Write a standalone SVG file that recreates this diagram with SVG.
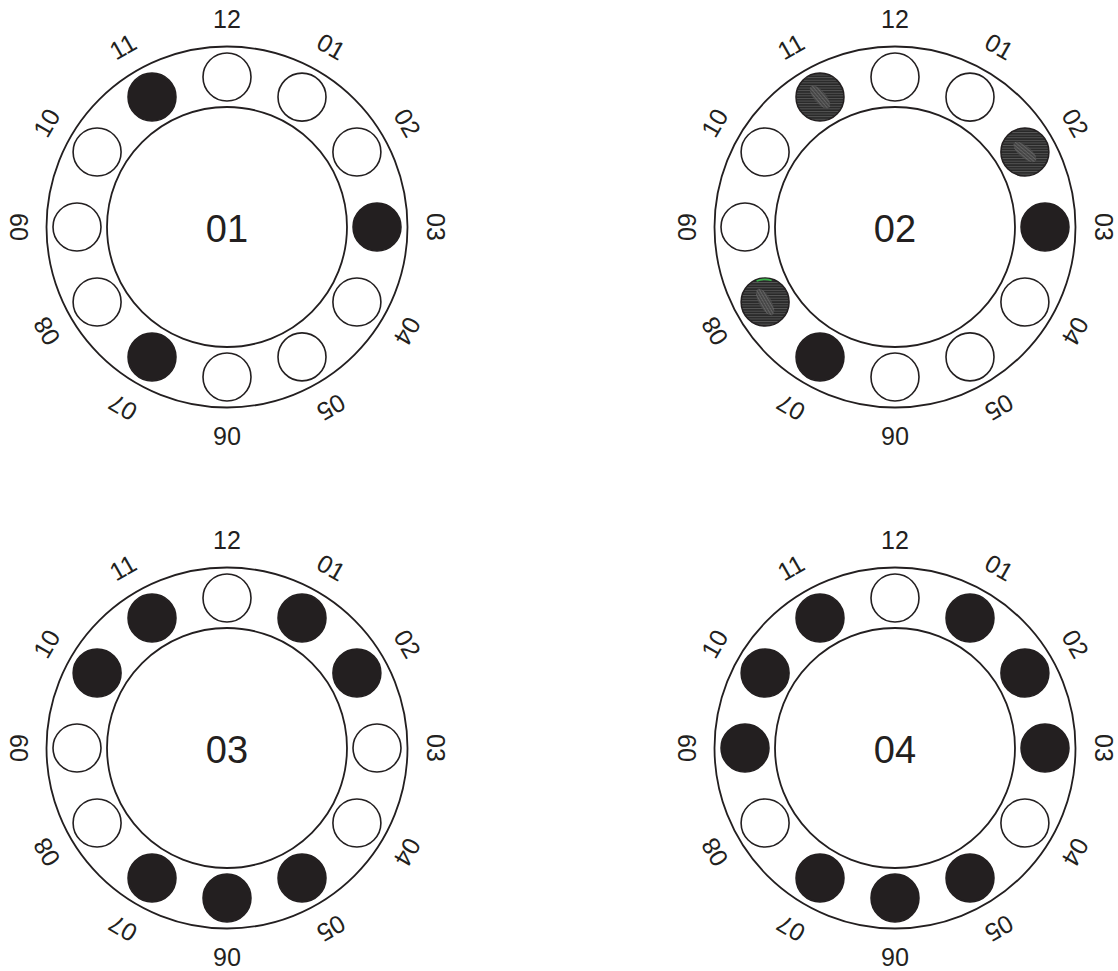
<svg xmlns="http://www.w3.org/2000/svg" xmlns:xlink="http://www.w3.org/1999/xlink" width="1118" height="971" viewBox="0 0 1118 971">
<style>
.ring{fill:none;stroke:#231f20;stroke-width:1.8}
.inner{fill:#fff;stroke:#231f20;stroke-width:1.8}
.open{fill:#fff;stroke:#231f20;stroke-width:1.6}
.full{fill:#231f20;stroke:#231f20;stroke-width:1.5}
.hatch{fill:url(#stripes);stroke:#231f20;stroke-width:1.5}
.lbl{font-family:"Liberation Sans",Arial,sans-serif;font-size:25px;fill:#231f20;text-anchor:middle}
.num{font-family:"Liberation Sans",Arial,sans-serif;font-size:38px;fill:#231f20;text-anchor:middle}
</style>
<defs>
<pattern id="stripes" patternUnits="userSpaceOnUse" width="10" height="2.6">
<rect width="10" height="2.6" fill="#242424"/>
<rect width="10" height="1.1" y="0.8" fill="#555"/>
</pattern>
<pattern id="stripes2" patternUnits="userSpaceOnUse" width="10" height="2.6">
<rect width="10" height="2.6" fill="#3c3c3c"/>
<rect width="10" height="1.4" y="0.7" fill="#6e6e6e"/>
</pattern>
<g id="labels">
<text class="lbl" x="0" y="-199.5">12</text>
<text class="lbl" x="0" y="-199.5" transform="rotate(30)">01</text>
<text class="lbl" x="0" y="-199.5" transform="rotate(60)">02</text>
<text class="lbl" x="0" y="-199.5" transform="rotate(90)">03</text>
<text class="lbl" x="0" y="-199.5" transform="rotate(120)">04</text>
<text class="lbl" x="0" y="-199.5" transform="rotate(150)">05</text>
<text class="lbl" x="0" y="-199.5" transform="rotate(180)">06</text>
<text class="lbl" x="0" y="-199.5" transform="rotate(210)">07</text>
<text class="lbl" x="0" y="-199.5" transform="rotate(240)">08</text>
<text class="lbl" x="0" y="-199.5" transform="rotate(270)">09</text>
<text class="lbl" x="0" y="-199.5" transform="rotate(300)">10</text>
<text class="lbl" x="0" y="-199.5" transform="rotate(330)">11</text>
</g>
<g id="frame">
<circle class="ring" r="180.5"/>
<circle class="inner" r="120"/>
</g>
</defs>

<g id="dial-01" transform="translate(227,227)">
<use xlink:href="#frame"/>
<use xlink:href="#labels"/>
<circle class="open" cx="0" cy="-150" r="24"/>
<circle class="open" cx="75" cy="-129.9" r="24"/>
<circle class="open" cx="129.9" cy="-75" r="24"/>
<circle class="full" cx="150" cy="0" r="24"/>
<circle class="open" cx="129.9" cy="75" r="24"/>
<circle class="open" cx="75" cy="129.9" r="24"/>
<circle class="open" cx="0" cy="150" r="24"/>
<circle class="full" cx="-75" cy="129.9" r="24"/>
<circle class="open" cx="-129.9" cy="75" r="24"/>
<circle class="open" cx="-150" cy="0" r="24"/>
<circle class="open" cx="-129.9" cy="-75" r="24"/>
<circle class="full" cx="-75" cy="-129.9" r="24"/>
<text class="num" x="0" y="14.5">01</text>
</g>

<g id="dial-02" transform="translate(895,227)">
<use xlink:href="#frame"/>
<use xlink:href="#labels"/>
<circle class="open" cx="0" cy="-150" r="24"/>
<circle class="open" cx="75" cy="-129.9" r="24"/>
<g transform="translate(129.9,-75)">
<circle class="hatch" r="24"/>
<ellipse rx="14" ry="6" transform="rotate(40)" fill="url(#stripes2)" opacity="0.8"/>
</g>
<circle class="full" cx="150" cy="0" r="24"/>
<circle class="open" cx="129.9" cy="75" r="24"/>
<circle class="open" cx="75" cy="129.9" r="24"/>
<circle class="open" cx="0" cy="150" r="24"/>
<circle class="full" cx="-75" cy="129.9" r="24"/>
<g transform="translate(-129.9,75)">
<circle class="hatch" r="24"/>
<ellipse rx="15" ry="6" transform="rotate(60)" fill="url(#stripes2)" opacity="0.8"/>
<path d="M -8.5,-21 A 22.6 22.6 0 0 1 6.5,-21.6" fill="none" stroke="#39b54a" stroke-width="1.6"/>
</g>
<circle class="open" cx="-150" cy="0" r="24"/>
<circle class="open" cx="-129.9" cy="-75" r="24"/>
<g transform="translate(-75,-129.9)">
<circle class="hatch" r="24"/>
<ellipse rx="14" ry="6" transform="rotate(50)" fill="url(#stripes2)" opacity="0.8"/>
</g>
<text class="num" x="0" y="14.5">02</text>
</g>

<g id="dial-03" transform="translate(227,748)">
<use xlink:href="#frame"/>
<use xlink:href="#labels"/>
<circle class="open" cx="0" cy="-150" r="24"/>
<circle class="full" cx="75" cy="-129.9" r="24"/>
<circle class="full" cx="129.9" cy="-75" r="24"/>
<circle class="open" cx="150" cy="0" r="24"/>
<circle class="open" cx="129.9" cy="75" r="24"/>
<circle class="full" cx="75" cy="129.9" r="24"/>
<circle class="full" cx="0" cy="150" r="24"/>
<circle class="full" cx="-75" cy="129.9" r="24"/>
<circle class="open" cx="-129.9" cy="75" r="24"/>
<circle class="open" cx="-150" cy="0" r="24"/>
<circle class="full" cx="-129.9" cy="-75" r="24"/>
<circle class="full" cx="-75" cy="-129.9" r="24"/>
<text class="num" x="0" y="14.5">03</text>
</g>

<g id="dial-04" transform="translate(895,748)">
<use xlink:href="#frame"/>
<use xlink:href="#labels"/>
<circle class="open" cx="0" cy="-150" r="24"/>
<circle class="full" cx="75" cy="-129.9" r="24"/>
<circle class="full" cx="129.9" cy="-75" r="24"/>
<circle class="full" cx="150" cy="0" r="24"/>
<circle class="open" cx="129.9" cy="75" r="24"/>
<circle class="full" cx="75" cy="129.9" r="24"/>
<circle class="full" cx="0" cy="150" r="24"/>
<circle class="full" cx="-75" cy="129.9" r="24"/>
<circle class="open" cx="-129.9" cy="75" r="24"/>
<circle class="full" cx="-150" cy="0" r="24"/>
<circle class="full" cx="-129.9" cy="-75" r="24"/>
<circle class="full" cx="-75" cy="-129.9" r="24"/>
<text class="num" x="0" y="14.5">04</text>
</g>

<g id="connectors"/>
</svg>
